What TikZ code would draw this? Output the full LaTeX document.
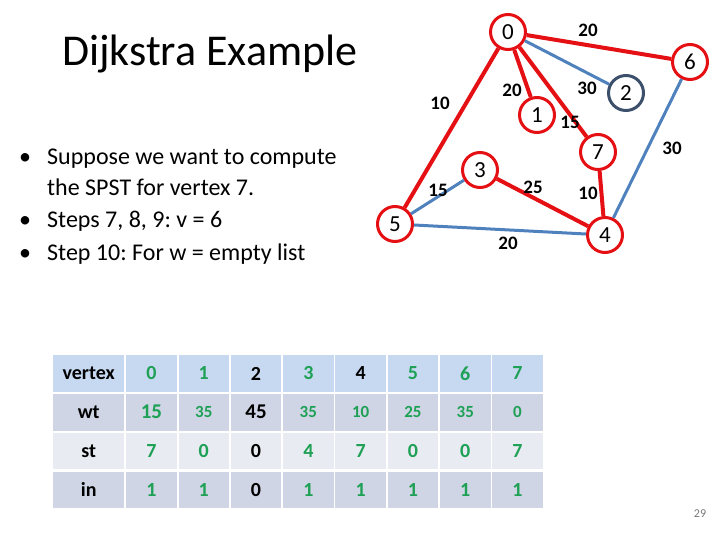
\documentclass[tikz,border=0pt]{standalone}
\usepackage{fontspec}
\setmainfont{Carlito}
\usetikzlibrary{positioning}
\definecolor{edgered}{RGB}{228,16,20}
\definecolor{edgeblue}{RGB}{79,129,189}
\definecolor{nodegray}{RGB}{60,80,108}
\definecolor{numgreen}{RGB}{30,160,85}
\definecolor{headblue}{RGB}{198,217,241}
\definecolor{banddark}{RGB}{207,213,228}
\definecolor{bandlight}{RGB}{232,235,242}
\definecolor{pagegray}{RGB}{120,120,120}
\frenchspacing

\tikzset{
  vtx/.style={circle, draw=edgered, line width=3pt, fill=white, minimum size=35pt, inner sep=0pt, font=\fontsize{23}{23}\selectfont},
  redge/.style={draw=edgered, line width=4pt},
  bedge/.style={draw=edgeblue, line width=3pt},
  wlab/.style={font=\bfseries\fontsize{19}{19}\selectfont},
  cell/.style={minimum width=50.5pt, minimum height=36.5pt, inner sep=0pt, anchor=north west, font=\bfseries\fontsize{20}{20}\selectfont},
  bignum/.style={font=\bfseries\fontsize{21}{21}\selectfont},
  smallnum/.style={font=\bfseries\fontsize{17}{17}\selectfont},
  txt/.style={anchor=base west, inner sep=0pt, font=\fontsize{24}{24}\selectfont},
}

\begin{document}
\begin{tikzpicture}[x=1pt, y=-1pt]
\useasboundingbox (0,0) rectangle (720,540);

% title and text
\node[anchor=base west, inner sep=0pt, font=\fontsize{44}{44}\selectfont] (title) at (62,66) {Dijkstra Example};
\node[txt] (b1) at (19,165) {•};
\node[txt] (l1) at (47,165) {Suppose we want to compute};
\node[txt] (l2) at (47,196) {the SPST for vertex 7.};
\node[txt] (b2) at (19,227) {•};
\node[txt] (l3) at (47,227) {Steps 7, 8, 9: v = 6};
\node[txt] (b3) at (19,260) {•};
\node[txt] (l4) at (47,260) {Step 10: For w = empty list};

% vertices
\node[vtx] (v0) at (508,32) {0};
\node[vtx] (v6) at (690,62) {6};
\node[vtx, draw=nodegray] (v2) at (626,93) {2};
\node[vtx] (v1) at (537,115) {1};
\node[vtx] (v7) at (598,152) {7};
\node[vtx] (v3) at (480,170) {3};
\node[vtx] (v5) at (395,224) {5};
\node[vtx] (v4) at (605,235) {4};

% edges
\draw[redge] (v0) -- (v6);
\draw[bedge] (v0) -- (v2);
\draw[redge] (v0) -- (v1);
\draw[redge] (v0) -- (v7);
\draw[redge] (v0) -- (v5);
\draw[bedge] (v6) -- (v4);
\draw[redge] (v7) -- (v4);
\draw[redge] (v3) -- (v4);
\draw[bedge] (v3) -- (v5);
\draw[bedge] (v5) -- (v4);

% weights
\node[wlab] (w06) at (588,30) {20};
\node[wlab] (w02) at (587,88) {30};
\node[wlab] (w01) at (512,90) {20};
\node[wlab] (w07) at (570,122) {15};
\node[wlab] (w05) at (440,103) {10};
\node[wlab] (w64) at (672,148) {30};
\node[wlab] (w74) at (588,193) {10};
\node[wlab] (w34) at (533,187) {25};
\node[wlab] (w35) at (438,190) {15};
\node[wlab] (w54) at (508,243) {20};

% table
\foreach \rname/\fillc [count=\r from 0] in {vertex/headblue, wt/banddark, st/bandlight, in/banddark}
  \node[cell, minimum width=71pt, fill=\fillc] (t\r h) at (53,355+38.8*\r) {\rname};
\foreach \v/\c [count=\i from 0] in {0/numgreen,1/numgreen,2/black,3/numgreen,4/black,5/numgreen,6/numgreen,7/numgreen}
  \node[cell, fill=headblue, text=\c] (t0\i) at (126+52.3*\i,355) {\v};
\foreach \v/\c/\s [count=\i from 0] in {15/numgreen/bignum,35/numgreen/smallnum,45/black/bignum,35/numgreen/smallnum,10/numgreen/smallnum,25/numgreen/smallnum,35/numgreen/smallnum,0/numgreen/smallnum}
  \node[cell, fill=banddark, text=\c, \s] (t1\i) at (126+52.3*\i,393.8) {\v};
\foreach \v/\c [count=\i from 0] in {7/numgreen,0/numgreen,0/black,4/numgreen,7/numgreen,0/numgreen,0/numgreen,7/numgreen}
  \node[cell, fill=bandlight, text=\c] (t2\i) at (126+52.3*\i,432.6) {\v};
\foreach \v/\c [count=\i from 0] in {1/numgreen,1/numgreen,0/black,1/numgreen,1/numgreen,1/numgreen,1/numgreen,1/numgreen}
  \node[cell, fill=banddark, text=\c] (t3\i) at (126+52.3*\i,471.4) {\v};

% page number
\node[text=pagegray, font=\fontsize{12}{12}\selectfont] (page) at (700,514) {29};
\end{tikzpicture}
\end{document}
